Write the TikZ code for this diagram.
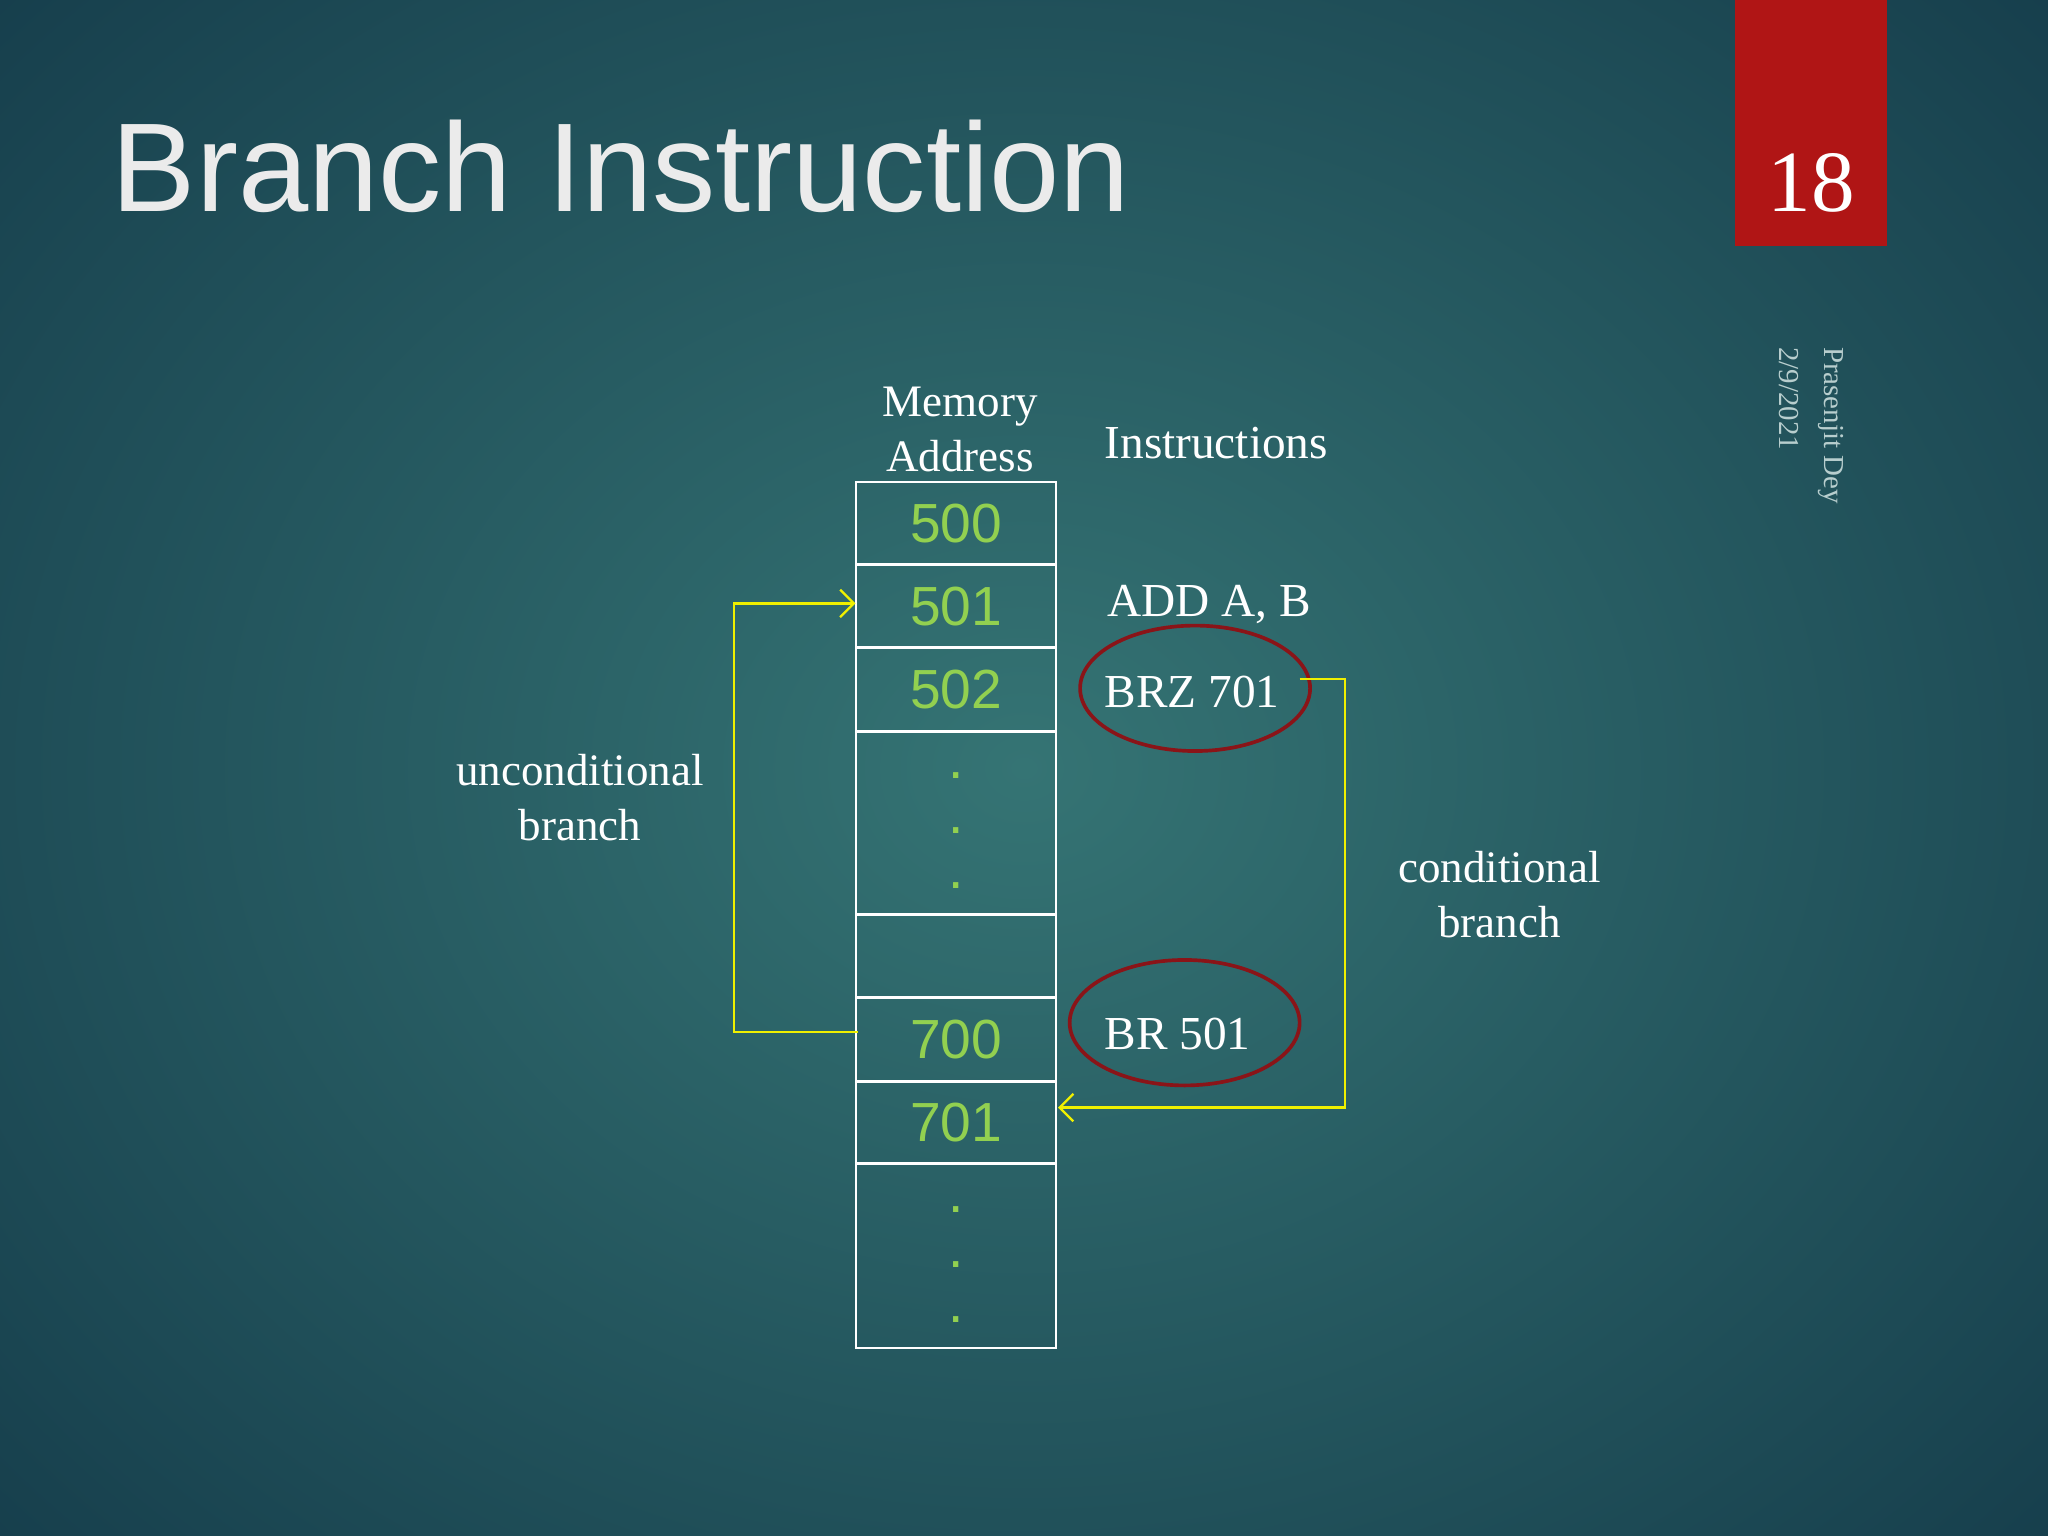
\documentclass[tikz,border=0pt]{standalone}
\usepackage{fontspec}
\setmainfont{Liberation Serif}
\setsansfont{Liberation Sans}
\usetikzlibrary{arrows.meta,shapes.geometric}
\definecolor{bgin}{HTML}{357474}
\definecolor{bgout}{HTML}{163E4C}
\definecolor{numg}{HTML}{92D050}
\definecolor{ered}{HTML}{8A1418}
\definecolor{boxred}{HTML}{B01515}
\definecolor{ylw}{HTML}{F0F000}
\begin{document}
\begin{tikzpicture}[x=0.01cm,y=-0.01cm,
  cell/.style={draw=white,line width=0.6pt,minimum width=1.53cm,inner sep=0pt,font=\sffamily\fontsize{12}{14}\selectfont,text=numg},
  lbl/.style={text=white,font=\fontsize{9.8}{12}\selectfont,align=center,inner sep=0pt},
  ins/.style={text=white,font=\fontsize{10.3}{12}\selectfont,anchor=west,inner sep=0pt},
  circ/.style={draw=ered,line width=0.8pt,ellipse,minimum width=1.76cm,minimum height=0.96cm},
  ybr/.style={draw=ylw,line width=0.5pt},
  dot/.style={text=numg,font=\sffamily\fontsize{12}{14}\selectfont,inner sep=0pt}]
\useasboundingbox (0,0) rectangle (1568,1176);
\shade[inner color=bgin,outer color=bgout] (-300,-300) rectangle (1868,1476);
\fill[boxred] (1328,0) rectangle (1445,188);
\node[text=white,font=\fontsize{19}{22}\selectfont] (pg) at (1387,140) {18};
\node[anchor=base west,text=white!92!black,font=\sffamily\fontsize{27.5}{30}\selectfont,inner sep=0pt] (title) at (85,162) {Branch Instruction};
\node[rotate=-90,anchor=north west,text=white!65!bgin,font=\fontsize{6.3}{8}\selectfont,inner sep=0pt] (auth) at (1412,265) {Prasenjit Dey};
\node[rotate=-90,anchor=north west,text=white!65!bgin,font=\fontsize{6.3}{8}\selectfont,inner sep=0pt] (date) at (1378,265) {2/9/2021};
% cells
\node[cell,minimum height=0.63cm] (c500) at (732,400.5) {500};
\node[cell,minimum height=0.64cm] (c501) at (732,464) {501};
\node[cell,minimum height=0.64cm] (c502) at (732,528) {502};
\node[cell,minimum height=1.40cm] (cd1) at (732,630) {};
\node[cell,minimum height=0.64cm] (ce) at (732,732) {};
\node[cell,minimum height=0.64cm] (c700) at (732,796) {700};
\node[cell,minimum height=0.63cm] (c701) at (732,859.5) {701};
\node[cell,minimum height=1.41cm] (cd2) at (732,961.5) {};
\foreach \y/\n in {598/a,640/b,682/c,930/d,972/e,1014/f} \node[dot] (d\n) at (732,\y-4) {.};
\node[lbl] (mem) at (735,329) {Memory\\Address};
\node[ins] (insh) at (845,339) {Instructions};
\node[ins] (add) at (847,463) {ADD A, B};
\node[ins] (brz) at (845,530) {BRZ 701};
\node[ins] (br) at (845,792) {BR 501};
\node[circ] (e1) at (915,527) {};
\node[circ] (e2) at (907,783) {};
\node[lbl] (unc) at (444,611) {unconditional\\branch};
\node[lbl] (cond) at (1148,685) {conditional\\branch};
\coordinate (u1) at (657,790);
\coordinate (u2) at (562,790);
\coordinate (u3) at (562,462);
\coordinate (u4) at (655,462);
\draw[ybr,-{Straight Barb[length=3pt,width=6pt]}] (u1) -- (u2) -- (u3) -- (u4);
\coordinate (k1) at (995,520);
\coordinate (k2) at (1030,520);
\coordinate (k3) at (1030,848);
\coordinate (k4) at (810,848);
\draw[ybr,-{Straight Barb[length=3pt,width=6pt]}] (k1) -- (k2) -- (k3) -- (k4);
\end{tikzpicture}
\end{document}
